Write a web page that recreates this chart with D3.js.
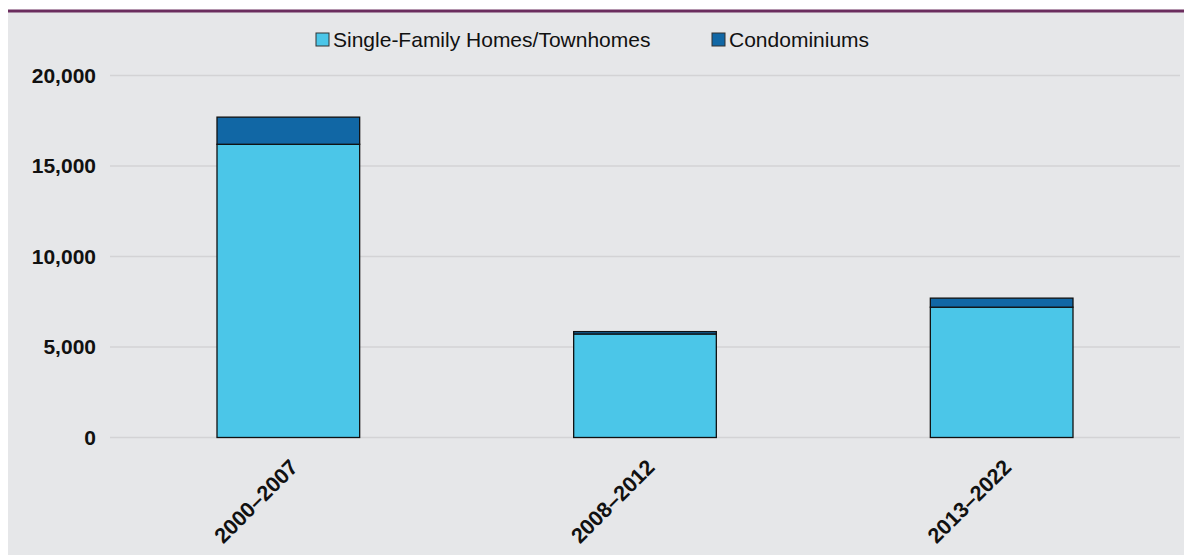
<!DOCTYPE html>
<html>
<head>
<meta charset="utf-8">
<script src="https://cdn.jsdelivr.net/npm/d3@7/dist/d3.min.js"></script>
<style>
  html, body { margin: 0; padding: 0; background: #ffffff; }
  svg { display: block; font-family: "Liberation Sans", Arial, Helvetica, sans-serif; }
</style>
</head>
<body>
<svg id="chart" width="1184" height="555"></svg>
<script>
// Housing sales by period, split by property type
const periods = ["2000–2007", "2008–2012", "2013–2022"];
const singleFamily = [16200, 5720, 7200];
const condominiums = [1500, 130, 500];
const seriesNames = ["Single-Family Homes/Townhomes", "Condominiums"];
const seriesColors = ["#4bc6e8", "#1167a5"];
const yTicks = [0, 5000, 10000, 15000, 20000];

(function () {
  const W = 1184, H = 555;
  const svg = d3.select("#chart");

  // panel background and top rule
  svg.append("rect").attr("x", 8).attr("y", 11).attr("width", W - 8).attr("height", H - 11).attr("fill", "#e6e7e9");
  svg.append("rect").attr("x", 8).attr("y", 9.5).attr("width", W - 8).attr("height", 3).attr("fill", "#6b2d5e");

  const plotLeft = 110, plotRight = 1180, plotTop = 75.5, plotBottom = 437.5;

  const x = d3.scaleBand().domain(periods).range([plotLeft, plotRight]).paddingInner(0.6).paddingOuter(0.3);
  const y = d3.scaleLinear().domain([0, 20000]).range([plotBottom, plotTop]);

  // gridlines
  svg.append("g").selectAll("line").data(yTicks).join("line")
    .attr("x1", plotLeft).attr("x2", plotRight)
    .attr("y1", d => y(d)).attr("y2", d => y(d))
    .attr("stroke", "#d3d3d5").attr("stroke-width", 1.5);

  // y axis labels
  const yAxis = d3.axisLeft(y).tickValues(yTicks).tickFormat(d3.format(",")).tickSize(0).tickPadding(0);
  const gy = svg.append("g").attr("transform", "translate(96,0)").call(yAxis);
  gy.select(".domain").remove();
  gy.selectAll("text").attr("font-size", 21).attr("font-weight", "bold").attr("fill", "#111")
    .attr("font-family", "Liberation Sans, Arial, sans-serif");

  // stacked bars
  const rows = periods.map((p, i) => ({ period: p, sf: singleFamily[i], condo: condominiums[i] }));
  const stack = d3.stack().keys(["sf", "condo"])(rows);
  svg.append("g").selectAll("g").data(stack).join("g")
    .attr("fill", (d, i) => seriesColors[i])
    .selectAll("rect").data(d => d).join("rect")
    .attr("x", d => x(d.data.period))
    .attr("width", x.bandwidth())
    .attr("y", d => y(d[1]))
    .attr("height", d => y(d[0]) - y(d[1]))
    .attr("stroke", "#111").attr("stroke-width", 1.3);

  // x axis labels, rotated
  const xAxis = d3.axisBottom(x).tickSize(0).tickPadding(0);
  const gx = svg.append("g").attr("transform", `translate(0,${plotBottom})`).call(xAxis);
  gx.select(".domain").remove();
  gx.selectAll("text")
    .attr("font-size", 21.5).attr("font-weight", "bold").attr("fill", "#111")
    .attr("font-family", "Liberation Sans, Arial, sans-serif")
    .attr("text-anchor", "end")
    .attr("dy", 0).attr("y", 0)
    .attr("transform", "translate(11,31) rotate(-45)");

  // legend
  const legendItems = [
    { x: 316, name: seriesNames[0], color: seriesColors[0] },
    { x: 712, name: seriesNames[1], color: seriesColors[1] }
  ];
  const lg = svg.append("g").selectAll("g").data(legendItems).join("g")
    .attr("transform", d => `translate(${d.x},33)`);
  lg.append("rect").attr("width", 13).attr("height", 13).attr("fill", d => d.color).attr("stroke", "#333").attr("stroke-width", 1);
  lg.append("text").attr("x", 17).attr("y", 14).attr("font-size", 21).attr("fill", "#111").text(d => d.name);
})();
</script>
</body>
</html>
